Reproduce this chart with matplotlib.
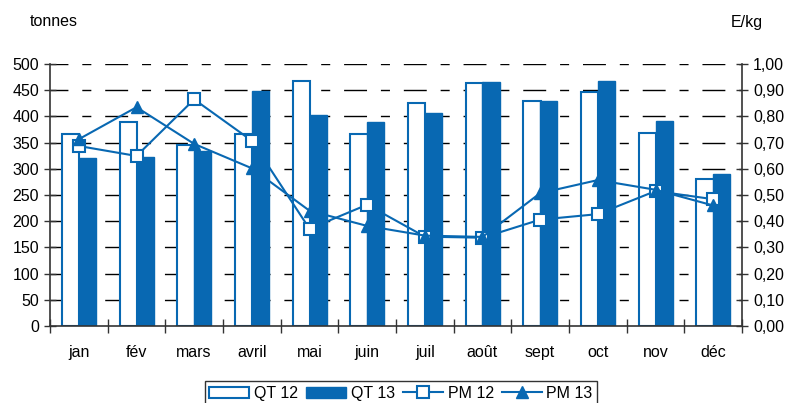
import numpy as np
import matplotlib.pyplot as plt
from matplotlib.ticker import FuncFormatter

plt.rcParams['font.family'] = ['Liberation Sans', 'DejaVu Sans']

months = ["jan", "fév", "mars", "avril", "mai", "juin", "juil", "août", "sept", "oct", "nov", "déc"]
qt12 = [366, 390, 345, 366, 467, 366, 426, 463, 430, 447, 369, 280]
qt13 = [320, 323, 334, 448, 403, 389, 407, 465, 429, 467, 392, 291]
pm12 = [0.687, 0.649, 0.865, 0.707, 0.371, 0.463, 0.341, 0.337, 0.406, 0.427, 0.515, 0.484]
pm13 = [0.713, 0.835, 0.695, 0.602, 0.440, 0.382, 0.345, 0.340, 0.507, 0.557, 0.520, 0.460]

blue = '#0868b2'
fs = 11.5

fig = plt.figure(figsize=(7.87, 4.03), dpi=100)
ax = fig.add_axes([50 / 787, 77 / 403, 692 / 787, 262 / 403])
x = np.arange(len(months))
w = 0.3

b1 = ax.bar(x - w / 2 + 0.01, qt12, width=w, facecolor='white', edgecolor=blue, linewidth=1.5, zorder=2, label='QT 12')
b2 = ax.bar(x + w / 2, qt13, width=w, facecolor=blue, edgecolor=blue, linewidth=1.0, zorder=2, label='QT 13')

ax.set_ylim(0, 500)
ax.set_xlim(-0.5, len(months) - 0.5)
ax.set_yticks(np.arange(0, 501, 50))
for v in np.arange(50, 501, 50):
    ax.axhline(v, color='black', lw=1.0, zorder=1, linestyle=(3.6, (16.5, 10, 6.5, 10)))

ax.set_xticks(np.arange(-0.5, len(months), 1))
ax.set_xticklabels([])
ax.set_xticks(x, minor=True)
ax.set_xticklabels(months, minor=True)
ax.tick_params(axis='x', which='major', direction='inout', length=10, width=1, color='#333333')
ax.tick_params(axis='x', which='minor', length=0, pad=14, labelsize=fs)
ax.tick_params(axis='y', direction='inout', length=8, width=1, color='#333333', labelsize=fs, pad=4)
for s in ['top', 'right']:
    ax.spines[s].set_visible(False)
for s in ['left', 'bottom']:
    ax.spines[s].set_color('#333333')
    ax.spines[s].set_linewidth(1.2)

ax2 = ax.twinx()
ax2.set_ylim(0, 1)
ax2.set_yticks(np.arange(0, 1.01, 0.1))
ax2.yaxis.set_major_formatter(FuncFormatter(lambda v, p: f"{v:.2f}".replace('.', ',')))
ax2.tick_params(axis='y', direction='inout', length=8, width=1, color='#333333', labelsize=fs, pad=4)
for s in ['top', 'left', 'bottom']:
    ax2.spines[s].set_visible(False)
ax2.spines['right'].set_color('#333333')
ax2.spines['right'].set_linewidth(1.2)

l1, = ax2.plot(x, pm12, color=blue, lw=1.5, marker='s', markersize=8, markerfacecolor='white',
               markeredgecolor=blue, markeredgewidth=1.5, label='PM 12', zorder=3)
l2, = ax2.plot(x, pm13, color=blue, lw=1.5, marker='^', markersize=9, markerfacecolor=blue,
               markeredgecolor=blue, label='PM 13', zorder=3)

fig.text(30 / 787, 1 - 22 / 403, "tonnes", fontsize=fs, va='center', ha='left')
fig.text(763 / 787, 1 - 22 / 403, "E/kg", fontsize=fs, va='center', ha='right')

leg = fig.legend([b1, b2, l1, l2], ['QT 12', 'QT 13', 'PM 12', 'PM 13'], ncol=4,
                 loc='upper center', bbox_to_anchor=(401 / 787, 1 - 381 / 403),
                 frameon=True, fancybox=False, fontsize=fs, handlelength=2.5,
                 handletextpad=0.3, columnspacing=0.5, borderpad=0.3, borderaxespad=0)
leg.get_frame().set_edgecolor('black')
leg.get_frame().set_linewidth(1.0)

fig.savefig('out.png', dpi=100)
